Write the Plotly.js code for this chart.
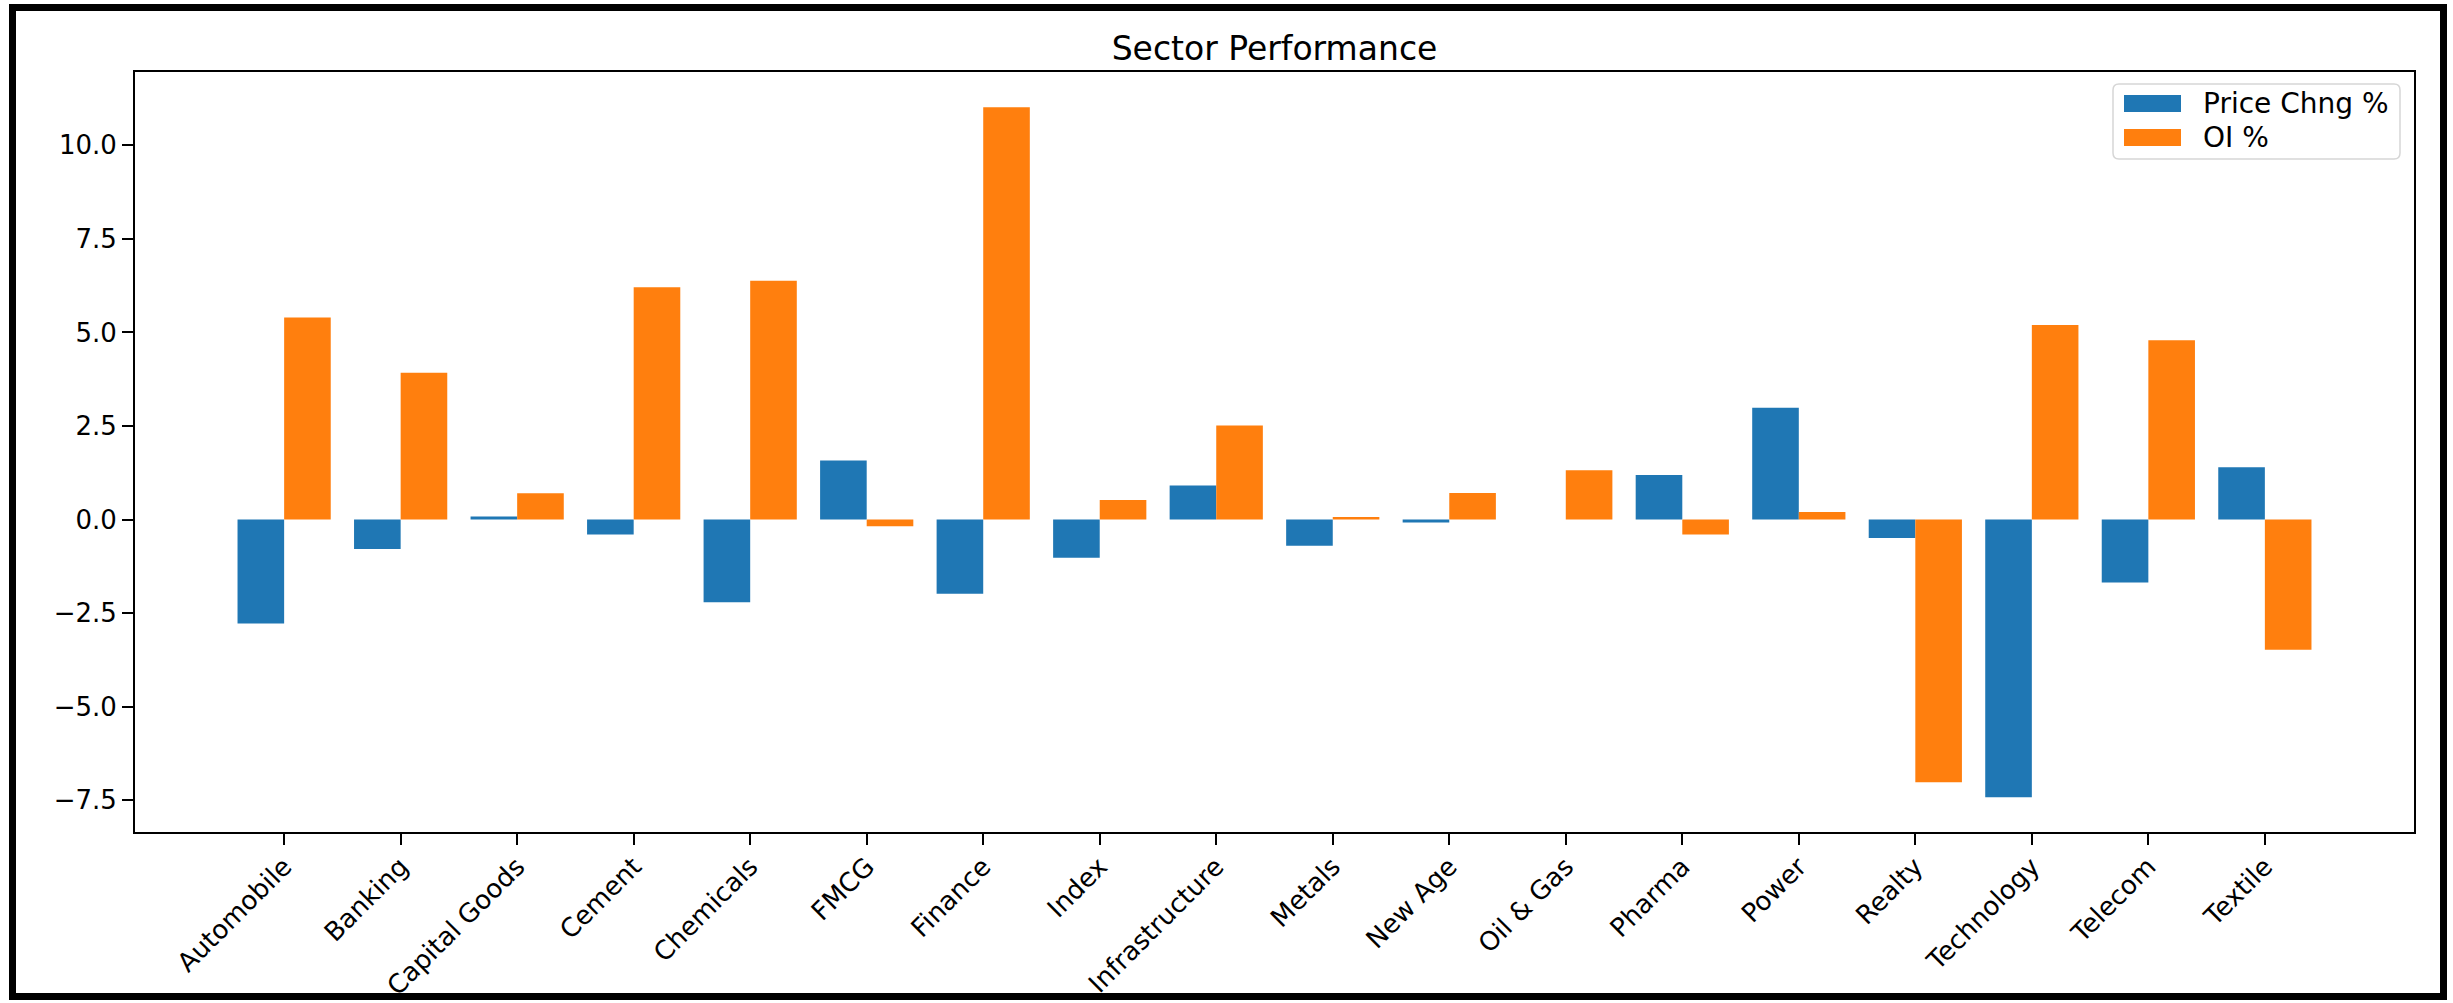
<!DOCTYPE html>
<html>
<head>
<meta charset="utf-8">
<script src="https://cdn.plot.ly/plotly-3.0.1.min.js"></script>
<style>
  html, body { margin: 0; padding: 0; background: #ffffff; }
  #chart { width: 2453px; height: 1003px; }
</style>
</head>
<body>
<div id="chart"></div>
<script>
// ---- data ----
const categories = ["Automobile", "Banking", "Capital Goods", "Cement", "Chemicals", "FMCG",
  "Finance", "Index", "Infrastructure", "Metals", "New Age", "Oil & Gas", "Pharma", "Power",
  "Realty", "Technology", "Telecom", "Textile"];
const priceChng = [-2.78, -0.79, 0.08, -0.40, -2.21, 1.58, -1.98, -1.02, 0.91, -0.70, -0.08, 0.00,
  1.19, 2.99, -0.49, -7.42, -1.68, 1.40];
const oiPct = [5.40, 3.92, 0.70, 6.21, 6.38, -0.18, 11.02, 0.52, 2.51, 0.07, 0.71, 1.32, -0.40,
  0.20, -7.02, 5.20, 4.79, -3.48];
const seriesNames = ["Price Chng %", "OI %"];
const yTickVals = [-7.5, -5.0, -2.5, 0.0, 2.5, 5.0, 7.5, 10.0];

// ---- layout geometry (pixels) ----
const W = 2453, H = 1003;
const M = { l: 135, r: 39, t: 72, b: 171 };
const PW = W - M.l - M.r, PH = H - M.t - M.b;
const px = x => (x - M.l) / PW;
const py = y => (H - M.b - y) / PH;

const blue = "#1f77b4", orange = "#ff7f0e";
const FONT = "DejaVu Sans, Verdana, sans-serif";

const traces = [
  { type: "bar", name: seriesNames[0], x: categories, y: priceChng,
    marker: { color: blue, line: { width: 0 } }, showlegend: false },
  { type: "bar", name: seriesNames[1], x: categories, y: oiPct,
    marker: { color: orange, line: { width: 0 } }, showlegend: false }
];

// custom legend (matplotlib style)
function roundedRect(x0, y0, x1, y1, r) {
  const X0 = px(x0), X1 = px(x1), Y0 = py(y0), Y1 = py(y1);
  const rx = r / PW, ry = r / PH;
  return `M${X0 + rx},${Y0} L${X1 - rx},${Y0} Q${X1},${Y0} ${X1},${Y0 - ry} ` +
         `L${X1},${Y1 + ry} Q${X1},${Y1} ${X1 - rx},${Y1} L${X0 + rx},${Y1} ` +
         `Q${X0},${Y1} ${X0},${Y1 + ry} L${X0},${Y0 - ry} Q${X0},${Y0} ${X0 + rx},${Y0} Z`;
}
const legendColors = [blue, orange];
const legendRowsY = [103.5, 137.5];
const shapes = [
  { type: "path", xref: "paper", yref: "paper", path: roundedRect(2113, 84, 2400, 159, 6),
    fillcolor: "rgba(255,255,255,0.8)", line: { color: "#d6d6d6", width: 1.5 } },
  // outer figure frame
  { type: "rect", xref: "paper", yref: "paper",
    x0: px(12.5), x1: px(2443.5), y0: py(7.5), y1: py(996.5),
    line: { color: "#000000", width: 7 }, fillcolor: "rgba(0,0,0,0)" }
];
const annotations = [];
seriesNames.forEach((nm, i) => {
  const yc = legendRowsY[i];
  shapes.push({ type: "rect", xref: "paper", yref: "paper",
    x0: px(2124), x1: px(2181), y0: py(yc - 8.5), y1: py(yc + 8.5),
    fillcolor: legendColors[i], line: { width: 0 } });
  annotations.push({ xref: "paper", yref: "paper", x: px(2201), y: py(yc),
    xanchor: "left", yanchor: "middle", showarrow: false, text: nm,
    font: { family: FONT, size: 28, color: "#000000" } });
});

const layout = {
  width: W, height: H,
  margin: M,
  paper_bgcolor: "#ffffff", plot_bgcolor: "#ffffff",
  font: { family: FONT, size: 26, color: "#000000" },
  title: { text: "Sector Performance", x: 0.5, xref: "paper", y: 1 - 48 / H, yref: "container",
    xanchor: "center", yanchor: "middle", font: { family: FONT, size: 33, color: "#000000" } },
  barmode: "group", bargap: 0.2, bargroupgap: 0,
  showlegend: false,
  xaxis: {
    type: "category", range: [-1.28, 18.28], tickangle: -45,
    showline: true, mirror: true, linecolor: "#000000", linewidth: 2,
    ticks: "outside", ticklen: 11, tickwidth: 2, tickcolor: "#000000",
    showgrid: false, zeroline: false, ticklabelstandoff: -4,
    tickfont: { family: FONT, size: 26, color: "#000000" }
  },
  yaxis: {
    range: [-8.35, 11.96], tickvals: yTickVals, tickformat: ".1f",
    showline: true, mirror: true, linecolor: "#000000", linewidth: 2,
    ticks: "outside", ticklen: 11, tickwidth: 2, tickcolor: "#000000",
    showgrid: false, zeroline: false,
    tickfont: { family: FONT, size: 26, color: "#000000" }
  },
  shapes: shapes,
  annotations: annotations
};

Plotly.newPlot("chart", traces, layout, { staticPlot: true, displayModeBar: false });
</script>
</body>
</html>
